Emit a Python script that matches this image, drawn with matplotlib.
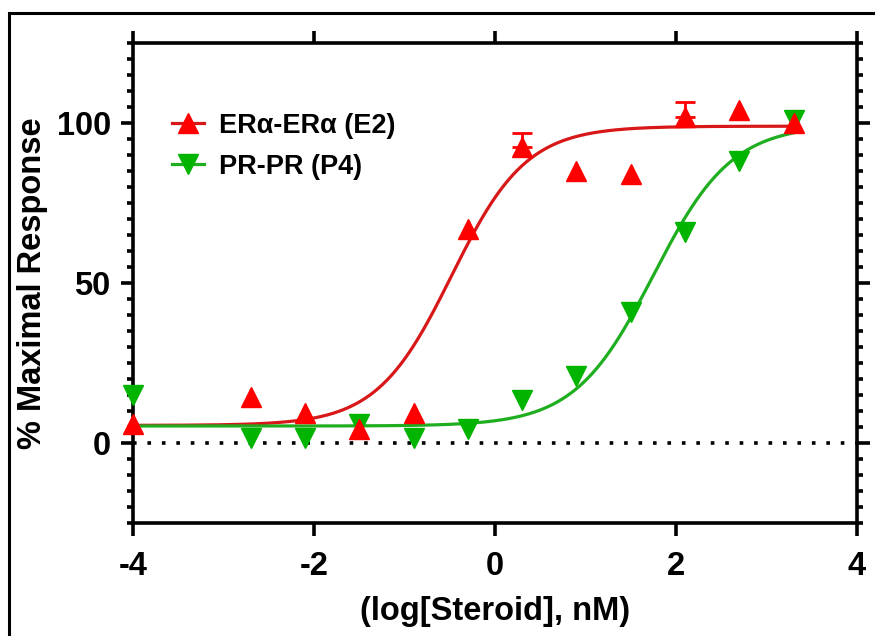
import numpy as np
import matplotlib
matplotlib.use("Agg")
import matplotlib.pyplot as plt
from matplotlib.patches import Rectangle
from matplotlib.ticker import MultipleLocator

plt.rcParams["font.family"] = ["Liberation Sans", "DejaVu Sans"]
plt.rcParams["font.weight"] = "bold"
plt.rcParams["axes.unicode_minus"] = False

# log[Steroid] doses (nM)
log_dose = [-4.0, -2.7, -2.1, -1.5, -0.9, -0.3, 0.3, 0.9, 1.5, 2.1, 2.7, 3.3]

# ERa-ERa (E2) response, % maximal
er_resp = [6, 14.5, 9.5, 4.5, 9.5, 67, 92.5, 85, 84, 102, 104, 100]
# upper error bars (only where visible)
er_err_x = [0.3, 2.1]
er_err_y = [92.5, 102]
er_err_up = [4.5, 4.5]

# PR-PR (P4) response, % maximal
pr_resp = [15, 1.5, 1.5, 6, 1.5, 4.5, 13.5, 21, 41, 66, 88, 101]

# four-parameter logistic fit params: bottom, top, logEC50, hill
er_fit = (5.5, 99.0, -0.48, 1.05)
pr_fit = (5.3, 99.5, 1.75, 1.0)

RED = "#ff0000"
RED_LINE = "#d81818"
GREEN = "#00b400"
GREEN_LINE = "#1fae1f"


def logistic(x, bottom, top, ec50, hill):
    return bottom + (top - bottom) / (1 + 10 ** ((ec50 - x) * hill))


fig = plt.figure(figsize=(8.75, 6.36), dpi=100)
ax = fig.add_axes([0.152, 0.1777, 0.8274, 0.7547])

# outer frame of the panel
fig.patches.append(Rectangle((0.0103, -0.2), 1.2, 1.1796, transform=fig.transFigure,
                             fill=False, edgecolor="black", linewidth=2.2))

xs = np.linspace(log_dose[0], log_dose[-1], 300)

ax.axhline(0, color="black", linestyle=(0, (1, 3)), linewidth=2.6, zorder=1)

ax.plot(xs, logistic(xs, *er_fit), color=RED_LINE, lw=2.3, zorder=2)
ax.plot(xs, logistic(xs, *pr_fit), color=GREEN_LINE, lw=2.3, zorder=2)

ax.errorbar(er_err_x, er_err_y, yerr=[np.zeros(len(er_err_up)), er_err_up],
            fmt="none", ecolor=RED, elinewidth=2, capsize=7.5, capthick=2, zorder=3)
ax.plot(log_dose, pr_resp, linestyle="none", marker="v", ms=14.5, color=GREEN,
        zorder=3, clip_on=False)
ax.plot(log_dose, er_resp, linestyle="none", marker="^", ms=14.5, color=RED,
        zorder=4, clip_on=False)

# legend proxies (line through marker like Prism)
h1, = ax.plot([], [], color=RED_LINE, lw=2.3, marker="^", ms=14.5, mfc=RED, mec=RED)
h2, = ax.plot([], [], color=GREEN_LINE, lw=2.3, marker="v", ms=14.5, mfc=GREEN, mec=GREEN)
ax.legend([h1, h2], ["ER\u03b1-ER\u03b1 (E2)", "PR-PR (P4)"], loc="upper left",
          bbox_to_anchor=(0.02, 0.905), frameon=False, handlelength=1.2,
          handletextpad=0.55, labelspacing=0.55,
          prop={"size": 19.5, "weight": "bold"})

ax.set_xlim(-4, 4)
ax.set_ylim(-25, 125)
ax.set_xticks([-4, -2, 0, 2, 4])
ax.set_yticks([0, 50, 100])
ax.yaxis.set_minor_locator(MultipleLocator(5))

for s in ax.spines.values():
    s.set_linewidth(2.6)

ax.tick_params(axis="both", which="major", direction="out", length=9, width=2.6,
               labelsize=23.5)
ax.tick_params(axis="x", pad=11)
ax.tick_params(axis="y", pad=7)
ax.tick_params(axis="y", which="minor", direction="out", length=4.5, width=2.6)
ax.tick_params(axis="x", top=True, labeltop=False)
ax.tick_params(axis="y", which="both", right=True, labelright=False)
for lab in ax.get_xticklabels() + ax.get_yticklabels():
    lab.set_fontweight("bold")

ax.set_xlabel("(log[Steroid], nM)", fontsize=23.5, fontweight="bold", labelpad=10)
ax.set_ylabel("% Maximal Response", fontsize=23.5, fontweight="bold", labelpad=6)

fig.savefig("out.png", dpi=100)
